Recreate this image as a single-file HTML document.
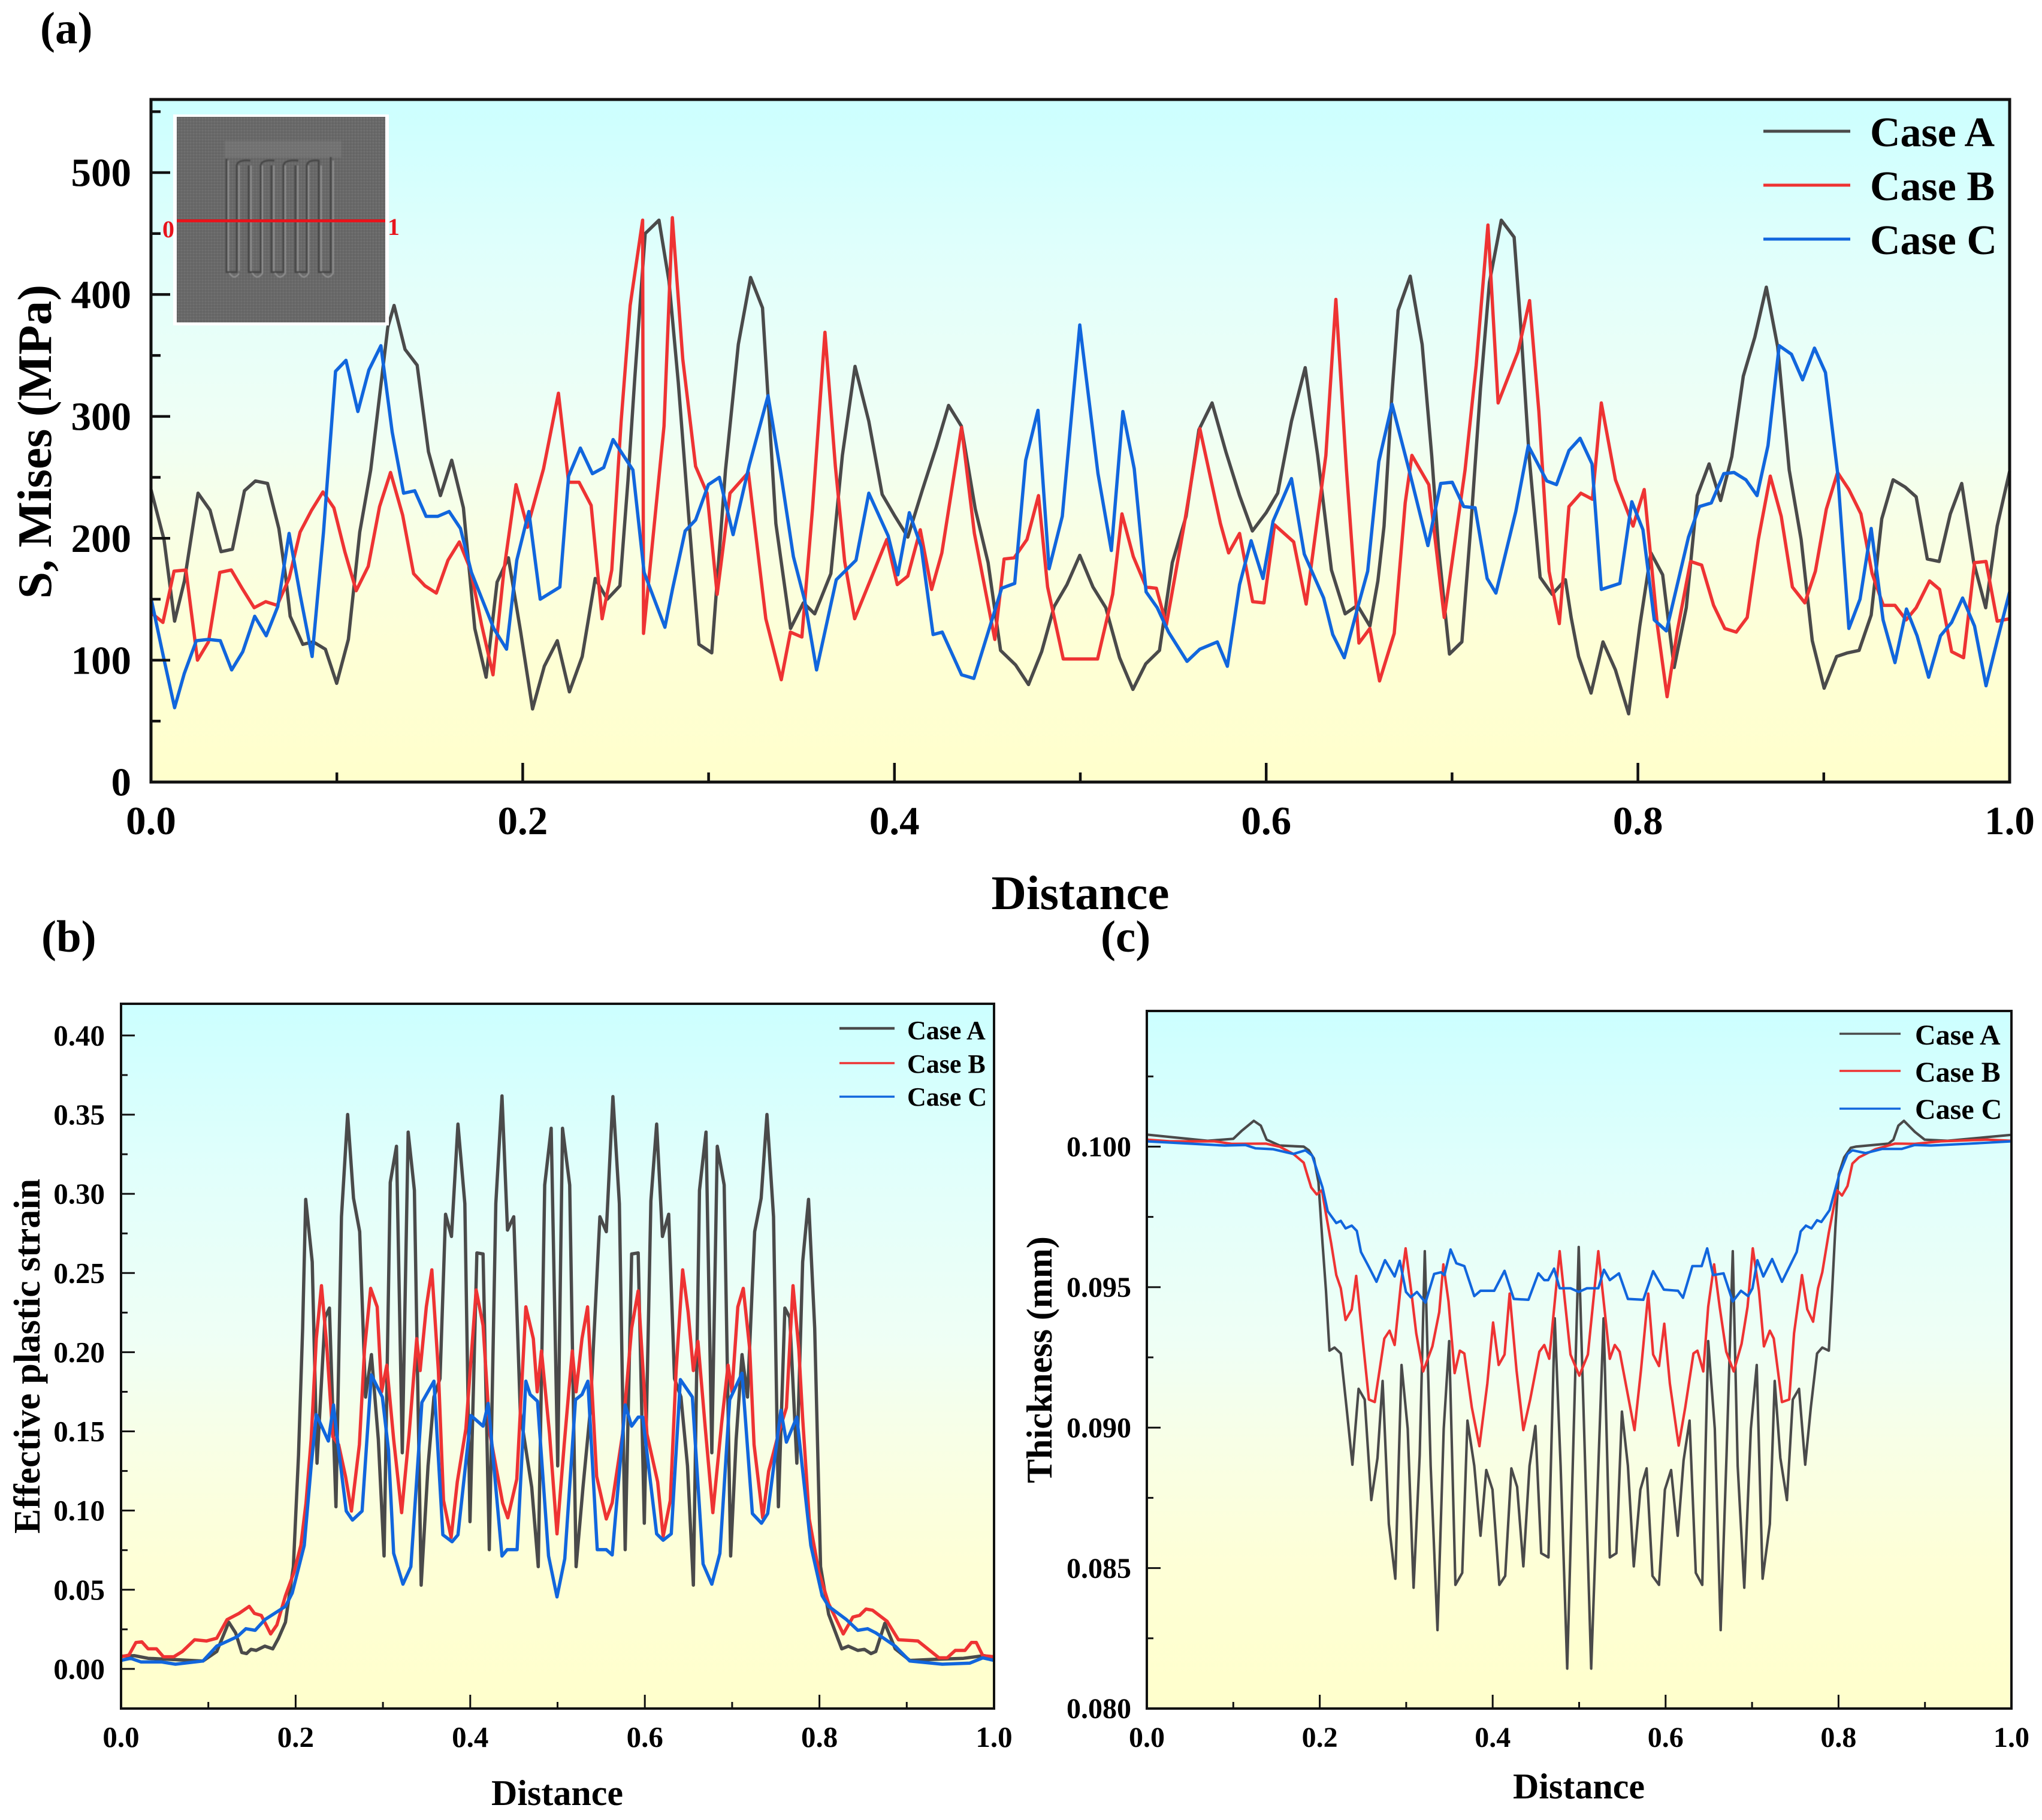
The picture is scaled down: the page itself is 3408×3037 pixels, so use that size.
<!DOCTYPE html>
<html lang="en">
<head>
<meta charset="utf-8">
<title>Stress, plastic strain and thickness profiles</title>
<style>
html,body{margin:0;padding:0;background:#fff;}
svg{display:block;}
text{font-family:"Liberation Serif",serif;font-weight:bold;fill:#000;}
</style>
</head>
<body>
<svg id="figure" xmlns="http://www.w3.org/2000/svg" width="3408" height="3037" viewBox="0 0 3408 3037">
<defs>
<linearGradient id="bgGrad" x1="0" y1="0" x2="0" y2="1">
<stop offset="0" stop-color="#ccffff"/>
<stop offset="0.25" stop-color="#e2fffb"/>
<stop offset="0.48" stop-color="#effff5"/>
<stop offset="0.62" stop-color="#f8ffe6"/>
<stop offset="0.8" stop-color="#feffd6"/>
<stop offset="1" stop-color="#ffffcc"/>
</linearGradient>
<pattern id="meshPat" width="5" height="5" patternUnits="userSpaceOnUse">
<rect width="5" height="5" fill="#6e6e6e"/>
<path d="M0 0H5M0 0V5" stroke="#5c5c5c" stroke-width="1.4"/>
</pattern>
<filter id="softBlur" x="-5%" y="-5%" width="110%" height="110%"><feGaussianBlur stdDeviation="0.9"/></filter>
</defs>
<rect width="3408" height="3037" fill="#fff"/>
<g id="panelA"></g>
<g id="panelB"></g>
<g id="panelC"></g>

<text x="67" y="72" font-size="75">(a)</text>
<text x="69" y="1588" font-size="75">(b)</text>
<text x="1837" y="1588" font-size="75">(c)</text>

<text x="1803" y="1517" font-size="81" text-anchor="middle">Distance</text>
<text transform="translate(85 737) rotate(-90)" font-size="81" text-anchor="middle">S, Mises (MPa)</text>
<text x="930" y="3012" font-size="60" text-anchor="middle">Distance</text>
<text transform="translate(66 2263) rotate(-90)" font-size="62" text-anchor="middle">Effective plastic strain</text>
<text x="2635" y="3001" font-size="60" text-anchor="middle">Distance</text>
<text transform="translate(1755 2269) rotate(-90)" font-size="60" text-anchor="middle">Thickness (mm)</text>

<g>
<line x1="2943" x2="3088" y1="219" y2="219" stroke="#4a4a4a" stroke-width="5"/>
<text x="3121" y="244" font-size="70">Case A</text>
<line x1="2943" x2="3088" y1="309" y2="309" stroke="#ee3333" stroke-width="5"/>
<text x="3121" y="334" font-size="70">Case B</text>
<line x1="2943" x2="3088" y1="399" y2="399" stroke="#1166dd" stroke-width="5"/>
<text x="3121" y="424" font-size="70">Case C</text>
</g>
<g>
<line x1="1401" x2="1493" y1="1716" y2="1716" stroke="#4a4a4a" stroke-width="4.5"/>
<text x="1514" y="1734" font-size="44">Case A</text>
<line x1="1401" x2="1493" y1="1774" y2="1774" stroke="#ee3333" stroke-width="3.5"/>
<text x="1514" y="1790" font-size="44">Case B</text>
<line x1="1401" x2="1493" y1="1830" y2="1830" stroke="#1166dd" stroke-width="3.5"/>
<text x="1514" y="1845" font-size="44">Case C</text>
</g>
<g>
<line x1="3070" x2="3172" y1="1725" y2="1725" stroke="#4a4a4a" stroke-width="3.5"/>
<text x="3196" y="1743" font-size="48">Case A</text>
<line x1="3070" x2="3172" y1="1787" y2="1787" stroke="#ee3333" stroke-width="3.5"/>
<text x="3196" y="1805" font-size="48">Case B</text>
<line x1="3070" x2="3172" y1="1850" y2="1850" stroke="#1166dd" stroke-width="3.5"/>
<text x="3196" y="1867" font-size="48">Case C</text>
</g>

<g>
<rect x="289" y="191" width="360" height="352" fill="#fff"/>
<rect x="295" y="195" width="348" height="343" fill="url(#meshPat)"/>
<rect x="375" y="235" width="195" height="28" fill="#8a8a8a" opacity="0.3" filter="url(#softBlur)"/>
<g filter="url(#softBlur)">
<path d="M381 268V452Q390 470 399 456M399 276V452M419 276V452Q428 470 438 456V276M457 276V452Q466 470 476 456V276M497 276V452Q506 470 515 456V276M536 276V452Q546 470 556 456V268" fill="none" stroke="#929292" stroke-width="2.2"/>
<path d="M378 265V454H395V276Q397 266 418 268M415 276V454H435V276Q437 266 458 268M453 276V454H473V276Q475 266 498 268M493 276V454H512V276Q514 266 532 268V454H552V262" fill="none" stroke="#474747" stroke-width="3"/>
</g>
<rect x="295" y="366" width="348" height="5" fill="#e8141c"/>
<text x="271" y="396" font-size="40" style="fill:#e8141c">0</text>
<text x="647" y="392" font-size="40" style="fill:#e8141c">1</text>
</g>

<script>
const aCaseA = [[0,240],[.007,199],[.0127,132],[.018,165],[.0253,237],[.0318,223],[.0377,189],[.0438,191],[.0503,239],[.0562,247],[.0627,245],[.0688,208],[.0725,168],[.0749,136],[.0817,113],[.0873,115],[.0938,109],[.0999,81],[.1062,117],[.1123,205],[.1182,256],[.1274,373],[.1308,391],[.1367,355],[.1432,342],[.1493,271],[.1557,235],[.1618,264],[.1681,225],[.1742,126],[.1803,86],[.1862,164],[.1923,184],[.1988,124],[.2053,60],[.2116,95],[.2186,116],[.2251,74],[.232,103],[.239,167],[.2455,150],[.2523,161],[.2566,247],[.2603,332],[.2659,450],[.2733,461],[.2787,411],[.2837,328],[.2893,218],[.2948,113],[.3017,106],[.3091,256],[.316,359],[.3226,414],[.329,389],[.3362,212],[.3441,126],[.351,147],[.3571,138],[.3658,171],[.372,268],[.3788,341],[.3862,296],[.3934,236],[.4003,218],[.4072,201],[.4151,240],[.4225,275],[.4291,309],[.436,292],[.4435,224],[.4504,180],[.4571,108],[.4652,96],[.4721,80],[.4792,107],[.4859,144],[.4928,162],[.4997,186],[.5068,160],[.5137,143],[.5211,102],[.5283,76],[.5352,97],[.5426,108],[.5495,180],[.5569,218],[.5638,289],[.5709,311],[.5783,271],[.5857,235],[.5926,206],[.6,221],[.6062,237],[.6136,296],[.621,340],[.6277,268],[.6351,174],[.6425,138],[.6491,145],[.6558,128],[.6601,165],[.6634,210],[.6677,319],[.671,387],[.6775,415],[.6839,359],[.6891,267],[.6927,192],[.6986,105],[.7053,115],[.7101,210],[.7153,323],[.7201,410],[.7265,461],[.7334,447],[.7367,380],[.7415,267],[.7474,168],[.7539,154],[.761,166],[.7641,135],[.7681,103],[.7748,73],[.7812,115],[.7879,92],[.795,56],[.801,128],[.807,188],[.8133,170],[.8195,94],[.826,143],[.8319,235],[.8383,261],[.8445,231],[.8505,267],[.8567,333],[.8629,365],[.8691,406],[.8752,357],[.8814,256],[.8878,199],[.8938,116],[.9002,77],[.9069,103],[.9128,106],[.919,108],[.9255,137],[.9312,216],[.9373,248],[.9438,242],[.9497,234],[.9557,183],[.9621,181],[.9681,220],[.9742,245],[.9807,180],[.9871,143],[.9933,210],[1,255]];
const aCaseB = [[0,139],[.0064,131],[.0124,173],[.0188,174],[.025,100],[.0309,115],[.037,172],[.0432,174],[.0494,158],[.0555,143],[.0617,148],[.0679,145],[.0743,167],[.0802,205],[.0864,223],[.0925,238],[.0984,225],[.1043,189],[.1104,157],[.1169,177],[.123,226],[.1289,254],[.1354,219],[.1413,171],[.1474,161],[.1535,155],[.1598,182],[.1659,197],[.172,174],[.1779,129],[.184,88],[.1899,174],[.1964,244],[.2025,209],[.2112,257],[.2192,319],[.2247,246],[.2303,246],[.2368,227],[.2427,134],[.2479,174],[.2529,295],[.2578,391],[.2645,461],[.265,122],[.276,292],[.2805,463],[.2861,347],[.293,259],[.2992,237],[.3046,154],[.3115,237],[.3214,254],[.3308,134],[.3391,84],[.344,123],[.3502,119],[.3559,224],[.3626,369],[.3682,259],[.3732,181],[.3786,134],[.3959,199],[.4015,162],[.4072,169],[.4139,207],[.42,158],[.4255,188],[.4361,291],[.443,204],[.454,117],[.459,183],[.4644,184],[.4713,199],[.4775,235],[.4824,160],[.4908,101],[.5093,101],[.5174,154],[.5224,220],[.5285,185],[.5354,160],[.5409,159],[.5463,129],[.5561,213],[.5643,290],[.5754,212],[.5798,188],[.5857,204],[.5927,148],[.5988,147],[.6045,211],[.6148,197],[.6215,146],[.6321,268],[.6375,396],[.6432,256],[.6499,114],[.6558,126],[.661,83],[.6689,122],[.6748,229],[.6784,268],[.6875,244],[.6958,135],[.707,256],[.713,342],[.7193,457],[.7248,311],[.7355,353],[.7417,395],[.7467,304],[.7522,173],[.7577,130],[.7629,226],[.7693,237],[.7755,232],[.7803,311],[.7879,248],[.7974,210],[.8034,240],[.8105,128],[.8157,70],[.8212,124],[.8283,181],[.8343,178],[.8407,145],[.8467,126],[.8529,123],[.8588,135],[.8648,199],[.8712,251],[.8771,218],[.8831,160],[.8898,147],[.8955,173],[.9014,224],[.9074,254],[.9135,240],[.92,220],[.926,171],[.932,145],[.9383,145],[.9443,133],[.9497,143],[.9569,165],[.9623,158],[.9688,107],[.9752,102],[.9811,180],[.9873,181],[.9933,132],[1,134]];
const aCaseC = [[0,151],[.0068,102],[.0127,61],[.0179,89],[.0244,116],[.0309,117],[.0373,116],[.0434,92],[.0494,107],[.0558,136],[.062,120],[.0682,144],[.0743,204],[.0802,154],[.0867,103],[.0928,205],[.0993,337],[.1049,346],[.1113,304],[.1172,338],[.1237,358],[.1298,287],[.1359,237],[.1419,239],[.148,218],[.1543,218],[.1604,222],[.1665,208],[.1724,172],[.1844,126],[.1913,109],[.1968,182],[.2033,222],[.2094,150],[.22,160],[.2247,251],[.231,274],[.2375,253],[.2436,258],[.2486,281],[.2593,256],[.2653,172],[.2765,127],[.2807,159],[.2874,206],[.293,215],[.2999,244],[.3058,250],[.3132,203],[.3219,260],[.332,317],[.3386,256],[.3456,185],[.3517,149],[.3581,92],[.3687,166],[.3793,182],[.3862,237],[.3966,202],[.4018,170],[.408,221],[.4144,193],[.4208,121],[.4257,123],[.4361,88],[.4427,85],[.4577,159],[.4647,163],[.4706,264],[.4772,305],[.4832,175],[.4903,218],[.4997,375],[.5095,253],[.5167,190],[.5229,304],[.529,257],[.5354,156],[.5414,143],[.5475,123],[.5574,99],[.5643,109],[.5737,115],[.5791,95],[.5857,162],[.5919,198],[.5983,167],[.6037,214],[.6136,249],[.6205,187],[.6309,151],[.6358,121],[.642,102],[.6494,144],[.6546,173],[.6606,263],[.6677,310],[.6772,254],[.687,194],[.6939,245],[.7001,246],[.7063,226],[.7124,225],[.7189,167],[.7236,155],[.7343,222],[.741,276],[.751,247],[.7562,244],[.7629,272],[.7689,282],[.7753,261],[.7803,158],[.7903,163],[.7967,230],[.8027,207],[.8088,133],[.8153,124],[.8272,201],[.8331,226],[.8395,229],[.8462,253],[.8517,254],[.8581,248],[.8641,235],[.87,276],[.876,358],[.8826,351],[.8886,330],[.895,356],[.9009,336],[.9074,254],[.9135,126],[.9195,150],[.9255,208],[.9319,133],[.9383,98],[.9445,142],[.9502,120],[.9564,86],[.9628,120],[.9688,131],[.9747,151],[.9811,128],[.9873,79],[.9933,116],[1,156]];

const bCaseA = [[0,.008],[.015,.0084],[.031,.0067],[.0584,.006],[.0938,.005],[.1096,.011],[.1234,.0295],[.1312,.0228],[.1383,.0104],[.1438,.0097],[.1489,.0124],[.1548,.0117],[.1647,.0144],[.1738,.0127],[.1804,.0194],[.1883,.0295],[.1974,.0646],[.2033,.135],[.208,.2152],[.2115,.2965],[.219,.257],[.2245,.1299],[.2336,.2219],[.2387,.2279],[.2426,.1616],[.2462,.1024],[.2525,.2855],[.2596,.3501],[.2663,.2972],[.2734,.2761],[.2801,.1717],[.2868,.1985],[.2947,.1449],[.3013,.0713],[.3084,.3072],[.3155,.33],[.3222,.1365],[.3289,.339],[.336,.3022],[.3438,.0529],[.3517,.1282],[.3584,.1717],[.3654,.1834],[.3717,.2871],[.3785,.2731],[.3859,.344],[.3938,.2938],[.3997,.093],[.4076,.2627],[.4147,.262],[.4218,.0753],[.4293,.2938],[.4364,.3618],[.4427,.2771],[.4498,.2855],[.4574,.1616],[.4704,.1148],[.4779,.0646],[.4853,.3056],[.4927,.3414],[.5002,.1282],[.5057,.3414],[.5139,.3056],[.5213,.0646],[.5292,.1148],[.5373,.1616],[.5485,.2855],[.5559,.2761],[.5634,.3614],[.5708,.2938],[.5775,.0753],[.5849,.262],[.5924,.2627],[.5994,.092],[.6069,.2955],[.6135,.344],[.6202,.2731],[.6273,.2871],[.634,.1834],[.6414,.1717],[.6489,.1282],[.6556,.0529],[.6626,.3022],[.6701,.339],[.6767,.1365],[.683,.33],[.6909,.3056],[.6983,.0713],[.7046,.1449],[.7113,.1985],[.7176,.1717],[.7258,.2761],[.7332,.2972],[.7399,.3501],[.7474,.2855],[.753,.1024],[.7604,.2279],[.766,.2219],[.7741,.1299],[.7808,.257],[.7875,.2965],[.7946,.2152],[.8013,.0646],[.8106,.0345],[.8255,.0127],[.833,.0144],[.844,.0117],[.8515,.0124],[.859,.0097],[.8645,.011],[.8749,.0288],[.8868,.0127],[.9035,.0054],[.9277,.006],[.9649,.0067],[.989,.0084],[1,.006]];
const bCaseB = [[0,.0077],[.009,.0087],[.017,.0167],[.0238,.0171],[.031,.0127],[.0406,.0127],[.0485,.0077],[.0604,.0077],[.0702,.011],[.0842,.0184],[.098,.0177],[.1096,.0194],[.1214,.0311],[.1352,.0351],[.1469,.0395],[.1528,.0351],[.1607,.0338],[.1714,.0221],[.1785,.0278],[.1883,.0462],[.1982,.0612],[.206,.078],[.2119,.1048],[.2178,.1449],[.2237,.2085],[.2296,.242],[.2355,.2052],[.2426,.1466],[.2493,.1416],[.2572,.1215],[.2639,.0997],[.273,.1416],[.2789,.2018],[.2859,.2403],[.2934,.2286],[.2985,.175],[.3044,.1918],[.3123,.1449],[.3214,.0987],[.33,.1483],[.3387,.2085],[.3426,.1884],[.3497,.2286],[.356,.252],[.3635,.1884],[.3694,.1064],[.3781,.083],[.3852,.1181],[.395,.1516],[.4068,.2393],[.4147,.2169],[.4226,.1483],[.4371,.1048],[.443,.0954],[.4533,.1198],[.4637,.2286],[.4723,.2085],[.4767,.175],[.4816,.2008],[.4909,.1483],[.4994,.0853],[.5076,.1416],[.5169,.2008],[.5213,.175],[.528,.2085],[.5344,.2286],[.5448,.1215],[.5559,.0947],[.5626,.1048],[.5745,.1483],[.5849,.2152],[.5924,.2387],[.6024,.1483],[.6147,.1181],[.621,.0837],[.6292,.1064],[.6358,.1884],[.6433,.252],[.6496,.2252],[.6556,.1884],[.6608,.2068],[.6693,.1516],[.6779,.0987],[.6879,.1549],[.6953,.1918],[.6998,.175],[.7065,.2286],[.7128,.2403],[.7202,.2018],[.7251,.1416],[.7351,.0954],[.7418,.1248],[.753,.1483],[.7622,.165],[.7697,.242],[.7764,.2018],[.7808,.1583],[.7883,.0947],[.7994,.0612],[.8106,.0412],[.8273,.0221],[.8384,.0328],[.8459,.0338],[.8533,.0378],[.8608,.0371],[.8775,.0301],[.8905,.0184],[.9128,.0177],[.9369,.007],[.9463,.007],[.9556,.0117],[.9667,.0117],[.9741,.0167],[.9797,.0167],[.9871,.0084],[1,.0077]];
const bCaseC = [[0,.0054],[.011,.0067],[.0229,.0044],[.0465,.0044],[.0623,.003],[.0938,.005],[.1096,.0144],[.1332,.0204],[.143,.0254],[.1536,.0244],[.1647,.0311],[.1883,.0395],[.1961,.0479],[.2099,.078],[.2178,.1282],[.2237,.1606],[.2375,.1439],[.2434,.1667],[.2493,.1382],[.258,.0997],[.2651,.094],[.2761,.0997],[.2867,.1857],[.2993,.1717],[.3064,.1382],[.3123,.073],[.3229,.0535],[.332,.0646],[.3446,.1683],[.3584,.1817],[.3686,.0847],[.3792,.0803],[.3859,.0847],[.4008,.16],[.4147,.1533],[.4206,.1677],[.4364,.0713],[.4423,.0753],[.4537,.0753],[.4637,.1817],[.4686,.1733],[.4771,.169],[.4897,.0713],[.4994,.0455],[.5083,.0696],[.5206,.17],[.528,.1733],[.5347,.1817],[.5455,.0753],[.5559,.0753],[.5626,.072],[.5775,.1667],[.5849,.1533],[.5924,.159],[.5976,.159],[.6135,.0853],[.621,.0813],[.6303,.0853],[.6407,.1827],[.6544,.1717],[.6667,.0663],[.6767,.0535],[.686,.073],[.6972,.17],[.7113,.1867],[.7232,.0981],[.7336,.092],[.7407,.0981],[.7559,.1633],[.7622,.1432],[.7741,.159],[.7901,.078],[.8031,.0462],[.8106,.0395],[.831,.0311],[.844,.0244],[.8552,.0254],[.8645,.0228],[.8868,.0144],[.9035,.005],[.9407,.003],[.9723,.0037],[.9871,.007],[1,.0054]];

const cCaseA = [[0,.10043],[.0703,.10021],[.1,.10028],[.1099,.10057],[.1238,.10092],[.1318,.10075],[.1385,.10025],[.1536,.10004],[.1814,.1],[.1874,.09987],[.1933,.09958],[.1985,.09874],[.2032,.09657],[.2072,.09487],[.2112,.09274],[.2171,.09285],[.2243,.09264],[.231,.09072],[.2378,.08868],[.2449,.09138],[.252,.091],[.2596,.08742],[.2668,.08892],[.2727,.09166],[.2799,.08657],[.2874,.08462],[.2946,.09223],[.3017,.08996],[.3085,.0843],[.3156,.08902],[.3215,.09628],[.3283,.08864],[.3362,.08279],[.3434,.08996],[.3497,.09308],[.3569,.0844],[.3648,.08483],[.3708,.09025],[.3787,.08864],[.3859,.08615],[.3926,.08849],[.3998,.08779],[.4077,.0844],[.4145,.08472],[.4216,.08855],[.4283,.08789],[.4355,.08506],[.4426,.08864],[.4494,.09006],[.4561,.08553],[.4645,.08538],[.4718,.09389],[.4786,.08864],[.4862,.08142],[.4995,.09643],[.5139,.08142],[.5283,.09389],[.5355,.08538],[.5431,.08553],[.5495,.09057],[.5564,.08864],[.5632,.08506],[.5708,.08779],[.578,.08855],[.5848,.08472],[.5924,.0844],[.5992,.08779],[.6064,.08849],[.614,.08615],[.6208,.08883],[.6277,.09025],[.6349,.08483],[.6424,.0844],[.6493,.09308],[.6569,.08996],[.6637,.08279],[.6705,.08902],[.6777,.09628],[.6834,.08864],[.691,.0843],[.6986,.08996],[.7054,.09223],[.7122,.08462],[.7206,.08657],[.7262,.09166],[.7327,.08892],[.7403,.08742],[.7471,.091],[.7543,.09138],[.7615,.08868],[.768,.09072],[.7752,.09264],[.7812,.09285],[.7888,.09274],[.7926,.09487],[.7964,.09713],[.8002,.09902],[.8066,.09962],[.8142,.09996],[.8199,.1],[.8578,.10011],[.8635,.10025],[.8692,.10075],[.8757,.10092],[.8882,.10053],[.8996,.10025],[.9261,.10021],[.9716,.10034],[1,.10042]];
const cCaseB = [[0,.10025],[.0266,.10019],[.0782,.10019],[.0981,.1001],[.1377,.10011],[.1536,.1],[.1695,.09974],[.1814,.09943],[.1854,.09902],[.1901,.09855],[.1965,.0983],[.2025,.09845],[.2072,.0976],[.2132,.09657],[.2191,.09543],[.2243,.09496],[.2299,.09383],[.237,.09421],[.2421,.0954],[.2489,.09336],[.2568,.091],[.2636,.09091],[.2747,.09317],[.2807,.09345],[.2866,.09294],[.2937,.09506],[.2993,.09638],[.3065,.09468],[.3116,.09336],[.3196,.092],[.3303,.09289],[.3382,.09411],[.343,.09581],[.3489,.09449],[.356,.09194],[.362,.09274],[.3672,.09264],[.3759,.09072],[.3847,.08934],[.3938,.09157],[.4005,.09374],[.4069,.09223],[.4137,.0926],[.4196,.09477],[.4276,.09204],[.4355,.08991],[.4434,.091],[.454,.0927],[.4597,.09294],[.4654,.09245],[.4775,.09628],[.49,.0926],[.5002,.09185],[.5101,.0926],[.5222,.09628],[.5355,.09245],[.5412,.09294],[.5469,.0927],[.564,.08991],[.5715,.09204],[.5799,.09477],[.5856,.0926],[.5924,.09219],[.5985,.0937],[.6049,.09157],[.6151,.08936],[.6227,.09072],[.6322,.09264],[.6368,.09274],[.6436,.092],[.6493,.0943],[.6561,.09581],[.6625,.0943],[.6701,.0927],[.6788,.092],[.6879,.09298],[.6948,.0943],[.7008,.09638],[.708,.09487],[.7137,.09289],[.7206,.09345],[.7251,.09317],[.7346,.09091],[.743,.091],[.7486,.09336],[.7577,.09543],[.7638,.09421],[.7706,.09377],[.7763,.09496],[.7812,.09553],[.7888,.09694],[.7983,.09845],[.804,.09826],[.8104,.0986],[.8161,.0994],[.8237,.09962],[.8427,.09991],[.8654,.10011],[.8882,.1001],[.9185,.10019],[.9716,.10025],[1,.10021]];
const cCaseC = [[0,.10019],[.0901,.10004],[.114,.10006],[.1258,.09994],[.1457,.09991],[.1695,.09974],[.1834,.09987],[.1913,.09968],[.2032,.09855],[.2092,.0977],[.2191,.09728],[.2243,.09736],[.2299,.09709],[.237,.09719],[.2429,.097],[.2477,.09625],[.2568,.09572],[.2656,.09519],[.2755,.09596],[.2866,.09538],[.2925,.09594],[.2997,.09483],[.3053,.09464],[.3124,.09483],[.3223,.09445],[.3323,.09547],[.3402,.09553],[.3442,.09543],[.3513,.09634],[.358,.09585],[.3672,.09575],[.3787,.09468],[.3859,.09487],[.4018,.09487],[.4137,.09558],[.4244,.09458],[.4414,.09455],[.4528,.09549],[.4597,.09525],[.4642,.09525],[.471,.09566],[.4775,.09496],[.49,.09496],[.4995,.09483],[.509,.09496],[.5222,.09496],[.5287,.09562],[.5355,.09525],[.5461,.09549],[.5564,.09458],[.5742,.09455],[.5856,.09557],[.598,.09491],[.6144,.09487],[.6201,.09462],[.631,.09575],[.6417,.09575],[.6481,.09638],[.6549,.09543],[.667,.09549],[.6777,.09449],[.6872,.09487],[.6955,.09468],[.7005,.09496],[.7062,.09596],[.713,.09538],[.7232,.096],[.7346,.09519],[.7516,.09625],[.7562,.09698],[.7623,.09719],[.7687,.09709],[.7752,.09738],[.7801,.09732],[.7896,.09774],[.801,.09902],[.8104,.09974],[.8161,.09987],[.8313,.09977],[.8503,.09992],[.873,.09992],[.8882,.10006],[.907,.10004],[.9526,.10011],[1,.10019]];

const xMajorLabels = ['0.0','0.2','0.4','0.6','0.8','1.0'];
const xMinorTicks = [.1,.3,.5,.7,.9];
const aYMajorLabels = ['0','100','200','300','400','500'];
const aYMinorTicks = [50,150,250,350,450,550];
const bYMajorLabels = ['0.00','0.05','0.10','0.15','0.20','0.25','0.30','0.35','0.40'];
const bYMinorTicks = [.025,.075,.125,.175,.225,.275,.325,.375];
const cYMajorLabels = ['0.080','0.085','0.090','0.095','0.100'];
const cYMinorTicks = [.0825,.0875,.0925,.0975,.1025];

const SVG_NS = 'http://www.w3.org/2000/svg';
const seriesColors = ['#4a4a4a', '#ee3333', '#1166dd'];
const seriesNames = ['case-a', 'case-b', 'case-c'];

function drawPanel(opts) {
  const root = document.getElementById(opts.id);
  const sx = function (v) { return opts.left + (v - 0) / 1 * (opts.right - opts.left); };
  const sy = function (v) { return opts.bottom - (v - opts.yMin) / (opts.yMax - opts.yMin) * (opts.bottom - opts.top); };

  const bg = document.createElementNS(SVG_NS, 'rect');
  
  
  bg.setAttribute('x', opts.left);
  bg.setAttribute('y', opts.top);
  bg.setAttribute('width', opts.right - opts.left);
  bg.setAttribute('height', opts.bottom - opts.top);
  bg.setAttribute('fill', 'url(#bgGrad)');
  root.appendChild(bg);

  opts.series.forEach(function (data, i) {
    const line = document.createElementNS(SVG_NS, 'polyline');
    
    
    line.setAttribute('points', data.map(function (p) { return sx(p[0]).toFixed(1) + ',' + sy(p[1]).toFixed(1); }).join(' '));
    line.setAttribute('fill', 'none');
    line.setAttribute('stroke', seriesColors[i]);
    line.setAttribute('stroke-width', opts.lineWidths[i]);
    line.setAttribute('stroke-linejoin', 'round');
    root.appendChild(line);
  });

  function tick(x1, y1, x2, y2, name) {
    const t = document.createElementNS(SVG_NS, 'line');
    
    
    t.setAttribute('x1', x1);
    t.setAttribute('y1', y1);
    t.setAttribute('x2', x2);
    t.setAttribute('y2', y2);
    t.setAttribute('stroke', '#111');
    t.setAttribute('stroke-width', opts.tickWidth);
    root.appendChild(t);
  }
  function label(x, y, str, anchor, name) {
    const t = document.createElementNS(SVG_NS, 'text');
    
    
    t.setAttribute('x', x);
    t.setAttribute('y', y);
    t.setAttribute('font-size', opts.fontSize);
    t.setAttribute('text-anchor', anchor);
    t.textContent = str;
    root.appendChild(t);
  }

  xMajorLabels.forEach(function (s) {
    const v = parseFloat(s);
    tick(sx(v), opts.bottom, sx(v), opts.bottom - opts.majorLen, opts.prefix + '-x-tick');
    label(sx(v), opts.xLabelY, s, 'middle', opts.prefix + '-x-tick-label');
  });
  xMinorTicks.forEach(function (v) {
    tick(sx(v), opts.bottom, sx(v), opts.bottom - opts.minorLen, opts.prefix + '-x-minor-tick');
  });
  opts.yLabels.forEach(function (s) {
    const v = parseFloat(s);
    tick(opts.left, sy(v), opts.left + opts.majorLen, sy(v), opts.prefix + '-y-tick');
    label(opts.yLabelX, sy(v) + opts.fontSize * 0.338, s, 'end', opts.prefix + '-y-tick-label');
  });
  opts.yMinor.forEach(function (v) {
    tick(opts.left, sy(v), opts.left + opts.minorLen, sy(v), opts.prefix + '-y-minor-tick');
  });

  const frame = document.createElementNS(SVG_NS, 'rect');
  
  
  frame.setAttribute('x', opts.left);
  frame.setAttribute('y', opts.top);
  frame.setAttribute('width', opts.right - opts.left);
  frame.setAttribute('height', opts.bottom - opts.top);
  frame.setAttribute('fill', 'none');
  frame.setAttribute('stroke', '#111');
  frame.setAttribute('stroke-width', opts.frameWidth);
  root.appendChild(frame);
}

drawPanel({id:'panelA', prefix:'a', left:252, right:3354, top:166, bottom:1305, yMin:0, yMax:560,
  series:[aCaseA, aCaseB, aCaseC], lineWidths:[5.5,5.5,5.5], yLabels:aYMajorLabels, yMinor:aYMinorTicks,
  fontSize:67, xLabelY:1392, yLabelX:219, majorLen:32, minorLen:16, tickWidth:4.5, frameWidth:5});
drawPanel({id:'panelB', prefix:'b', left:202, right:1659, top:1675, bottom:2851, yMin:-0.025, yMax:0.42,
  series:[bCaseA, bCaseB, bCaseC], lineWidths:[5.5,5.5,5.5], yLabels:bYMajorLabels, yMinor:bYMinorTicks,
  fontSize:49, xLabelY:2915, yLabelX:175, majorLen:23, minorLen:11, tickWidth:3, frameWidth:4});
drawPanel({id:'panelC', prefix:'c', left:1914, right:3357, top:1687, bottom:2851, yMin:0.08, yMax:0.10483,
  series:[cCaseA, cCaseB, cCaseC], lineWidths:[4.2,4.2,4.2], yLabels:cYMajorLabels, yMinor:cYMinorTicks,
  fontSize:48, xLabelY:2915, yLabelX:1888, majorLen:23, minorLen:11, tickWidth:3, frameWidth:4});
</script>
</svg>
</body>
</html>
